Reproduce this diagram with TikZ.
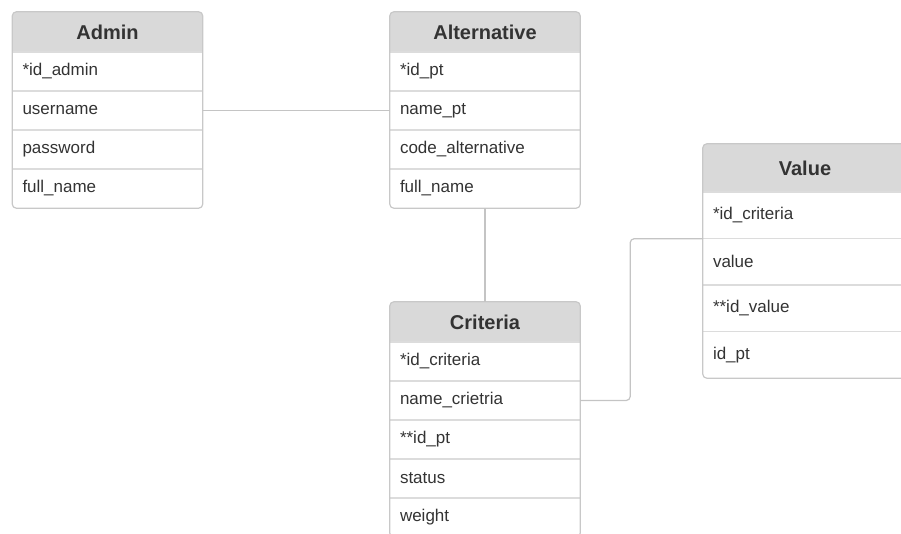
\documentclass[tikz,border=0pt]{standalone}
\usepackage{fontspec}
\setmainfont{Liberation Sans}
\usetikzlibrary{backgrounds}
\definecolor{headfill}{HTML}{D9D9D9}
\definecolor{framegray}{HTML}{C8C8C8}
\definecolor{sepgray}{HTML}{DCDCDC}
\definecolor{txtgray}{HTML}{333333}
\definecolor{linkgray}{HTML}{C4C4C4}
\tikzset{
  tabhead/.style={font=\fontsize{20}{24}\selectfont\bfseries, text=txtgray,
    minimum width=190pt, minimum height=40pt, inner sep=0pt},
  tabrow/.style={font=\fontsize{17}{20}\selectfont, text=txtgray,
    text width=170pt, align=left, inner xsep=10pt, inner ysep=0pt, minimum height=39pt},
  valrow/.style={tabrow, text width=184pt, minimum height=46.5pt},
  tabframe/.style={draw=framegray, line width=1.2pt, rounded corners=4pt},
  sepline/.style={draw=sepgray, line width=1.5pt},
  link/.style={draw=linkgray, line width=1.2pt},
}
\begin{document}
\begin{tikzpicture}[x=1pt, y=-1pt]
    \useasboundingbox (0,0) rectangle (901,533);
    % Admin
    \node[tabhead] (admin) at (107.5, 32) {Admin};
    \node[tabrow]  (adm-1) at (107.5, 71.5) {*id\_admin};
    \node[tabrow]  (adm-2) at (107.5,110.5) {username};
    \node[tabrow]  (adm-3) at (107.5,149.5) {password};
    \node[tabrow]  (adm-4) at (107.5,188.5) {full\_name};
    % Alternative
    \node[tabhead] (alternative) at (485, 32) {Alternative};
    \node[tabrow]  (alt-1) at (485, 71.5) {*id\_pt};
    \node[tabrow]  (alt-2) at (485,110.5) {name\_pt};
    \node[tabrow]  (alt-3) at (485,149.5) {code\_alternative};
    \node[tabrow]  (alt-4) at (485,188.5) {full\_name};
    % Criteria
    \node[tabhead] (criteria) at (485,322) {Criteria};
    \node[tabrow]  (crit-1) at (485,361.5) {*id\_criteria};
    \node[tabrow]  (crit-2) at (485,400.5) {name\_crietria};
    \node[tabrow]  (crit-3) at (485,439.5) {**id\_pt};
    \node[tabrow]  (crit-4) at (485,478.5) {status};
    \node[tabrow]  (crit-5) at (485,517.5) {weight};
    % Value
    \node[tabhead, minimum width=204pt, minimum height=48pt] (value) at (805,168) {Value};
    \node[valrow]  (val-1) at (805,215.25) {*id\_criteria};
    \node[valrow]  (val-2) at (805,261.75) {value};
    \node[valrow]  (val-3) at (805,308.25) {**id\_value};
    \node[valrow]  (val-4) at (805,354.75) {id\_pt};
    % header shading
    \begin{scope}[on background layer]
      \foreach \h in {admin, alternative, criteria, value} {
        \begin{scope}
          \clip (\h.north west) rectangle (\h.south east);
          \fill[headfill, rounded corners=4pt] (\h.north west) rectangle ([yshift=-8pt]\h.south east);
        \end{scope}
      }
    \end{scope}
    % row lines and frames
    \foreach \t/\n in {adm/4, alt/4, crit/5, val/4}
      \foreach \i in {1,...,\n}
        \draw[sepline] (\t-\i.north west) -- (\t-\i.north east);
    \draw[tabframe] (admin.north west) rectangle (adm-4.south east);
    \draw[tabframe] (alternative.north west) rectangle (alt-4.south east);
    \draw[tabframe] (criteria.north west) rectangle (crit-5.south east);
    \draw[tabframe] (value.north west) rectangle (val-4.south east);
    % relations
    \draw[link] (adm-2.east) -- (alt-2.west);
    \draw[link] (alt-4.south) -- (criteria.north);
    \draw[link, rounded corners=4pt] (crit-2.east) -- ++(50,0) |- (val-1.south west);
\end{tikzpicture}
\end{document}
